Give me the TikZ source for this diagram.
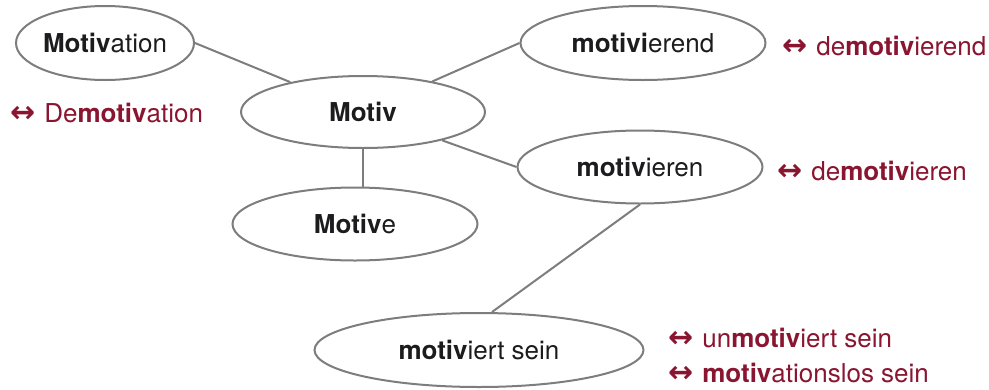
\documentclass[tikz,border=0pt]{standalone}
\usepackage{fontspec}
\setmainfont{TeX Gyre Heros}
\newfontfamily\arrowfont{DejaVu Sans}
\usetikzlibrary{shapes.geometric}
\definecolor{wine}{RGB}{138,21,48}
\definecolor{ink}{RGB}{28,28,30}
\definecolor{rim}{RGB}{125,125,125}
% bold double-headed arrow in front of each opposite term
\newcommand\opparrow{{\arrowfont\bfseries\fontsize{30}{30}\selectfont ↔}\hspace{9pt}}

\begin{document}
\begin{tikzpicture}[x=1pt,y=-1pt,
  bubble/.style={ellipse, draw=rim, line width=2pt, fill=white, inner sep=0pt,
    text=ink, font=\fontsize{26}{30}\selectfont},
  link/.style={draw=rim, line width=2pt},
  opp/.style={anchor=base west, text=wine, inner sep=0pt,
    font=\fontsize{26}{30}\selectfont}]
\useasboundingbox (0,0) rectangle (989,389);

% word family nodes
\node[bubble, minimum width=178pt, minimum height=74pt] (mtn) at (105,43) {\textbf{Motiv}ation};
\node[bubble, minimum width=244pt, minimum height=72pt] (motiv) at (363,112) {\textbf{Motiv}};
\node[bubble, minimum width=245pt, minimum height=74pt] (mvd) at (643,43) {\textbf{motivi}erend};
\node[bubble, minimum width=245pt, minimum height=73pt] (mvn) at (640,167) {\textbf{motiv}ieren};
\node[bubble, minimum width=245pt, minimum height=73pt] (mve) at (355,224) {\textbf{Motiv}e};
\node[bubble, minimum width=329pt, minimum height=74pt] (ms) at (479,350) {\textbf{motiv}iert sein};

% connectors
\draw[link] (mtn.east) -- (motiv);
\draw[link] (motiv) -- (mvd.west);
\draw[link] (motiv) -- (mvn.west);
\draw[link] (motiv.south) -- (motiv.south |- mve.north);
\draw[link] (mvn.south) -- ([xshift=13pt]ms.north);

% opposite terms
\node[opp] (oppa) at (10,122) {\opparrow De\textbf{motiv}ation};
\node[opp] (oppb) at (782,55) {\opparrow de\textbf{motiv}ierend};
\node[opp] (oppc) at (777,180) {\opparrow de\textbf{motiv}ieren};
\node[opp] (oppd) at (668,347) {\opparrow un\textbf{motiv}iert sein};
\node[opp] (oppe) at (668,382) {\opparrow \textbf{motiv}ationslos sein};
\end{tikzpicture}
\end{document}
